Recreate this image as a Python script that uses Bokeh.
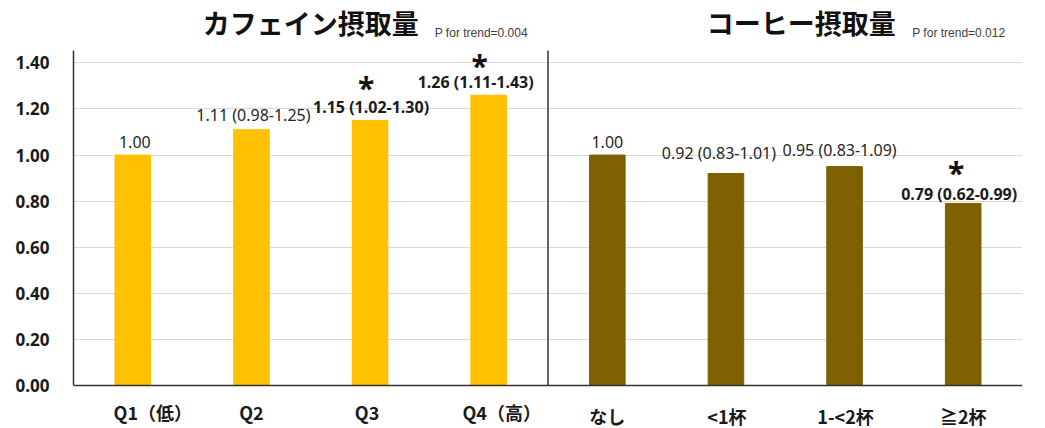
from bokeh.plotting import figure
from bokeh.models import ColumnDataSource, FactorRange, Range1d, FixedTicker, Span
from bokeh.core.properties import value
from bokeh.embed import file_html
from bokeh.resources import INLINE

# ---------------- data ----------------
caffeine_cats = ["Q1（低）", "Q2", "Q3", "Q4（高）"]
coffee_cats = ["なし", "<1杯", "1-<2杯", "≧2杯"]

caffeine_or = [1.00, 1.11, 1.15, 1.26]
caffeine_lo = [None, 0.98, 1.02, 1.11]
caffeine_hi = [None, 1.25, 1.30, 1.43]
caffeine_sig = [False, False, True, True]

coffee_or = [1.00, 0.92, 0.95, 0.79]
coffee_lo = [None, 0.83, 0.83, 0.62]
coffee_hi = [None, 1.01, 1.09, 0.99]
coffee_sig = [False, False, False, True]

titles = ["カフェイン摂取量", "コーヒー摂取量"]
p_trend = ["P for trend=0.004", "P for trend=0.012"]

y_ticks = [0.0, 0.2, 0.4, 0.6, 0.8, 1.0, 1.2, 1.4]
y_tick_labels = ["0.00", "0.20", "0.40", "0.60", "0.80", "1.00", "1.20", "1.40"]

# ---------------- layout / styles ----------------
AXIS_TOP = 1.454              # top of the value axis line
Y_VIEW = (-0.187, 1.671)      # visible data window (room for titles / category labels)
colors = ["#FFC000"] * 4 + ["#7F6000"] * 4
val_dx = [2, 2, 1, -13, 0, -7, -5, -4]
val_dy = [-13, -15, -14, -13, -13, -20, -17, -9]
ast_dx = [0, 0, -4, -9, 0, 0, 0, -7]
ast_dy = [0, 0, -33, -30, 0, 0, 0, -31]
cat_dx = [20, 0, -3, 13, 0, 1, 1, 0]
cat_dy = [27, 27, 27, 27, 31, 31, 31, 31]

cats = caffeine_cats + coffee_cats
ors = caffeine_or + coffee_or
los = caffeine_lo + coffee_lo
his = caffeine_hi + coffee_hi
sigs = caffeine_sig + coffee_sig


def fmt(o, lo, hi):
    if lo is None:
        return f"{o:.2f}"
    return f"{o:.2f} ({lo:.2f}-{hi:.2f})"


labels = [fmt(o, l, h) for o, l, h in zip(ors, los, his)]

src = ColumnDataSource(dict(
    x=cats, top=ors, base=[0] * len(cats), color=colors, label=labels,
    style=["bold" if s else "normal" for s in sigs],
    lcolor=["#1a1a1a" if s else "#262626" for s in sigs],
    dx=val_dx, dy=val_dy, cdx=cat_dx, cdy=cat_dy,
))
sig_idx = [i for i, s in enumerate(sigs) if s]
sig_src = ColumnDataSource(dict(
    x=[cats[i] for i in sig_idx],
    y=[ors[i] for i in sig_idx],
    t=["*" for i in sig_idx],
    dx=[ast_dx[i] for i in sig_idx],
    dy=[ast_dy[i] for i in sig_idx],
))

n1, n2 = len(caffeine_cats), len(coffee_cats)
title_src = ColumnDataSource(dict(
    x=[n1 / 2, n1 + n2 / 2], y=[AXIS_TOP] * 2, t=titles, pt=p_trend,
    tdx=[0, 16], pdx=[124, 127],
))

p = figure(width=1045, height=428, x_range=FactorRange(factors=cats),
           y_range=Range1d(*Y_VIEW), output_backend="svg", toolbar_location=None,
           x_axis_location=None,
           min_border_left=73, min_border_right=23, min_border_top=0, min_border_bottom=0)
p.outline_line_color = None
p.background_fill_color = "white"
p.border_fill_color = "white"

p.vbar(x="x", top="top", bottom="base", width=0.30, color="color", source=src)

# value labels
p.text(x="x", y="top", text="label", source=src, text_align="center", text_baseline="middle",
       x_offset="dx", y_offset="dy", text_font=value("Noto Sans"), text_font_size="16px",
       text_font_style="style", text_color="lcolor")

# significance asterisks
p.text(x="x", y="y", text="t", source=sig_src, text_align="center", text_baseline="middle",
       x_offset="dx", y_offset="dy", text_font=value("Noto Sans"), text_font_size="30px",
       text_font_style="bold", text_color="#111111")

# category labels (below the baseline)
p.text(x="x", y="base", text="x", source=src, text_align="center", text_baseline="middle",
       x_offset="cdx", y_offset="cdy", text_font=value("Noto Sans CJK JP"),
       text_font_size="18px", text_font_style="bold", text_color="#1a1a1a")

# titles and trend p-values
p.text(x="x", y="y", text="t", source=title_src, text_align="center", text_baseline="middle",
       x_offset="tdx", y_offset=-28, text_font=value("Noto Sans CJK JP"),
       text_font_size="27px", text_font_style="bold", text_color="#111111")
p.text(x="x", y="y", text="pt", source=title_src, text_align="left", text_baseline="alphabetic",
       x_offset="pdx", y_offset=-17, text_font=value("Liberation Sans"),
       text_font_size="12px", text_color="#404040")

# value axis
p.yaxis.ticker = FixedTicker(ticks=y_ticks)
p.yaxis.bounds = (0, AXIS_TOP)
p.yaxis.major_label_overrides = {t: l for t, l in zip(y_ticks, y_tick_labels)}
p.yaxis.major_label_text_font = "Noto Sans"
p.yaxis.major_label_text_font_style = "bold"
p.yaxis.major_label_text_font_size = "17px"
p.yaxis.major_label_text_color = "#1a1a1a"
p.yaxis.major_label_standoff = 18
p.yaxis.major_tick_line_color = None
p.yaxis.minor_tick_line_color = None
p.yaxis.axis_line_color = "#333333"
p.yaxis.axis_line_width = 1.5

p.ygrid.ticker = FixedTicker(ticks=y_ticks)
p.ygrid.grid_line_color = "#D9D9D9"
p.ygrid.grid_line_width = 1
p.ygrid.bounds = (0, AXIS_TOP)
p.xgrid.visible = False

# baseline (category axis line)
p.add_layout(Span(location=0, dimension="width", line_color="#333333", line_width=1.5))

# divider between the two groups
p.segment(x0=[n1], y0=[0], x1=[n1], y1=[AXIS_TOP], line_color="#333333", line_width=1.5)

open("out.html", "w").write(file_html(p, INLINE))
